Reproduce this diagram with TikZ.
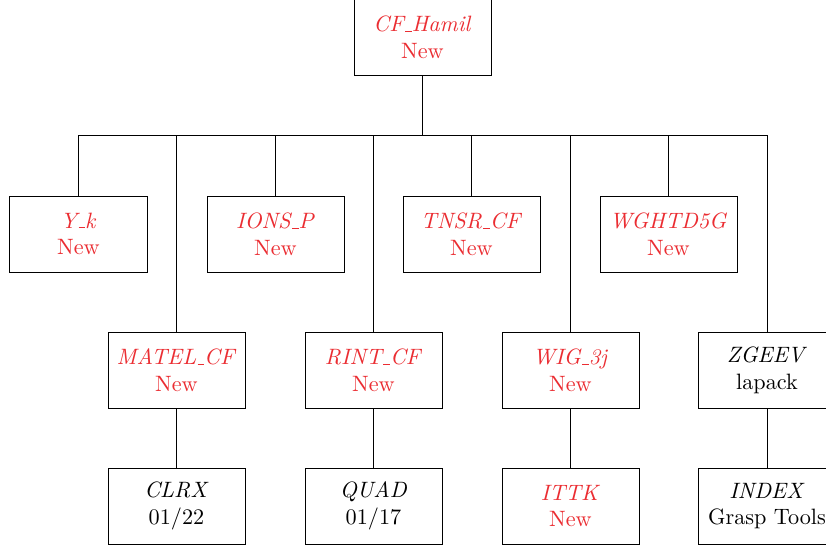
\documentclass[tikz,border=0pt]{standalone}
\usepackage{tikz}
\usepackage{xcolor}

\definecolor{newred}{RGB}{235,45,50}
% short underscore as in the old font encoding
\newcommand{\us}{\leavevmode\kern.06em\vbox{\hrule width.3em}}

\tikzset{
  routine/.style={draw, fill=white, align=center, minimum width=61.7pt, minimum height=34.2pt, inner sep=2pt},
  wire/.style={draw, line width=0.4pt}
}

\begin{document}
\begin{tikzpicture}[x=0.45pt, y=-0.45pt]
  % Frame of the page
  \clip (0,0) rectangle (826,549);

  % Top routine
  \node[routine] (hamil) at (422.5,37.5) {\textcolor{newred}{\textit{CF\us Hamil}}\\\textcolor{newred}{New}};

  % First row
  \node[routine] (yk) at (78.5,234) {\textcolor{newred}{\textit{Y\us k}}\\\textcolor{newred}{New}};
  \node[routine] (ions) at (275.5,234) {\textcolor{newred}{\textit{IONS\us P}}\\\textcolor{newred}{New}};
  \node[routine] (tnsr) at (471.5,234) {\textcolor{newred}{\textit{TNSR\us CF}}\\\textcolor{newred}{New}};
  \node[routine] (wght) at (668.5,234) {\textcolor{newred}{\textit{WGHTD5G}}\\\textcolor{newred}{New}};

  % Second row
  \node[routine] (matel) at (176.5,370) {\textcolor{newred}{\textit{MATEL\us CF}}\\\textcolor{newred}{New}};
  \node[routine] (rint) at (373.5,370) {\textcolor{newred}{\textit{RINT\us CF}}\\\textcolor{newred}{New}};
  \node[routine] (wig) at (570.5,370) {\textcolor{newred}{\textit{WIG\us 3j}}\\\textcolor{newred}{New}};
  \node[routine] (zgeev) at (767,370) {\textit{ZGEEV}\\lapack};

  % Third row
  \node[routine] (clrx) at (176.5,506) {\textit{CLRX}\\01/22};
  \node[routine] (quad) at (373.5,506) {\textit{QUAD}\\01/17};
  \node[routine] (ittk) at (570.5,506) {\textcolor{newred}{\textit{ITTK}}\\\textcolor{newred}{New}};
  \node[routine] (index) at (767,506) {\textit{INDEX}\\Grasp Tools};

  % Bus line
  \coordinate (busL) at (yk.north |- 0,135);
  \coordinate (busR) at (zgeev.north |- 0,135);
  \draw[wire] (busL) -- (busR);
  \draw[wire] (hamil.south) -- (hamil.south |- busL);

  % Drops from the bus
  \foreach \n in {yk,ions,tnsr,wght,matel,rint,wig,zgeev}
    \draw[wire] (\n.north |- busL) -- (\n.north);

  % Lower links
  \draw[wire] (matel) -- (clrx);
  \draw[wire] (rint) -- (quad);
  \draw[wire] (wig) -- (ittk);
  \draw[wire] (zgeev) -- (index);
\end{tikzpicture}
\end{document}
